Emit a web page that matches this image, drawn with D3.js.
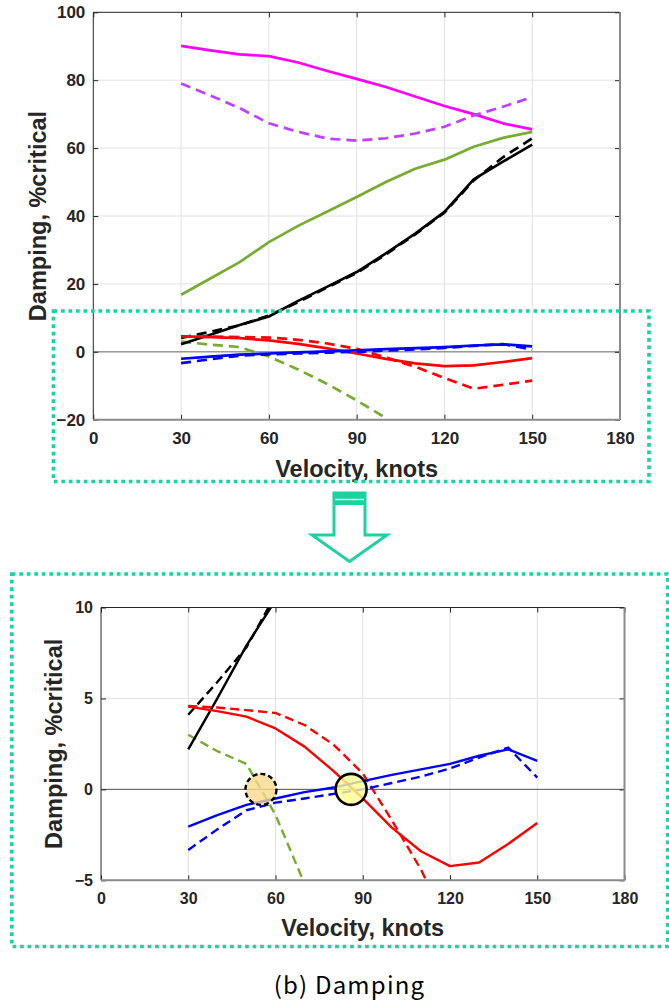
<!DOCTYPE html>
<html>
<head>
<meta charset="utf-8">
<script src="https://cdn.jsdelivr.net/npm/d3@7"></script>
<style>
  html, body { margin: 0; padding: 0; background: #fff; }
  svg { display: block; }
</style>
</head>
<body>
<svg id="chart" width="669" height="1000"></svg>
<script>
// velocity stations, knots
const velocity = [30, 40, 50, 60, 70, 80, 90, 100, 110, 120, 130, 140, 150];

// damping, %critical
const magentaSolid = [90.1, 88.8, 87.6, 87.1, 85.2, 82.7, 80.4, 78.0, 75.2, 72.4, 70.0, 67.3, 65.5];
const purpleDashed = [79.0, 75.5, 71.8, 67.3, 64.8, 62.8, 62.2, 62.9, 64.3, 66.3, 69.6, 72.2, 75.0];
const greenSolid   = [16.8, 21.6, 26.4, 32.3, 37.1, 41.3, 45.6, 50.0, 53.9, 56.6, 60.4, 63.0, 64.8];
const greenDashed  = [3.0, 2.1, 1.4, -1.4, -5.2, -9.5, -14.3, -19.5, null, null, null, null, null];
const blackSolid   = [2.2, 5.0, 7.9, 10.4, 15.0, 19.2, 23.5, 29.0, 34.8, 41.2, 50.8, 56.0, 61.0];
const blackDashed  = [4.1, 5.9, 7.8, 10.7, 14.6, 19.0, 23.2, 28.7, 34.6, 41.0, 50.5, 57.3, 62.9];
const redSolid     = [4.55, 4.3, 4.0, 3.35, 2.35, 1.0, -0.5, -2.1, -3.4, -4.22, -4.02, -3.0, -1.85];
const redDashed    = [4.58, 4.5, 4.36, 4.2, 3.54, 2.45, 0.88, -1.7, -4.4, -7.7, -10.9, -9.7, -8.5];
const blueSolid    = [-2.05, -1.42, -0.85, -0.5, -0.15, 0.1, 0.45, 0.8, 1.1, 1.4, 1.85, 2.2, 1.57];
const blueDashed   = [-3.33, -2.2, -1.15, -0.73, -0.5, -0.25, 0.0, 0.35, 0.7, 1.15, 1.75, 2.3, 0.65];

// axis ticks
const xTicks = [0, 30, 60, 90, 120, 150, 180];
const yTicksFull = [-20, 0, 20, 40, 60, 80, 100];
const yTicksZoom = [-5, 0, 5, 10];

// zero crossings marked in the zoomed plot (velocity)
const crossingDashed = [55];
const crossingSolid = [86];

const series = [
  { values: magentaSolid, color: "#ff00ff", dash: null },
  { values: purpleDashed, color: "#bf40ff", dash: true },
  { values: greenSolid,   color: "#77ac30", dash: null },
  { values: greenDashed,  color: "#77ac30", dash: true },
  { values: blackSolid,   color: "#000000", dash: null },
  { values: blackDashed,  color: "#000000", dash: true },
  { values: redSolid,     color: "#ff0000", dash: null },
  { values: redDashed,    color: "#ff0000", dash: true },
  { values: blueSolid,    color: "#0000ff", dash: null },
  { values: blueDashed,   color: "#0000ff", dash: true }
];

const svg = d3.select("#chart");
const FONT = "'Liberation Sans', Arial, sans-serif";
const TEAL = "#1ad3a1";

function drawPanel(opt) {
  const x = d3.scaleLinear().domain([0, 180]).range([opt.left, opt.right]);
  const y = d3.scaleLinear().domain(opt.yDomain).range([opt.bottom, opt.top]);
  const g = svg.append("g");
  const clipId = "clip" + opt.id;

  g.append("clipPath").attr("id", clipId)
    .append("rect")
    .attr("x", opt.left).attr("y", opt.top)
    .attr("width", opt.right - opt.left).attr("height", opt.bottom - opt.top);

  // grid
  g.selectAll(".gx").data(xTicks.slice(1, -1)).enter().append("line")
    .attr("x1", d => x(d)).attr("x2", d => x(d))
    .attr("y1", opt.top).attr("y2", opt.bottom)
    .attr("stroke", "#e2e2e2").attr("stroke-width", 1);
  g.selectAll(".gy").data(opt.yTicks.slice(1, -1)).enter().append("line")
    .attr("x1", opt.left).attr("x2", opt.right)
    .attr("y1", d => y(d)).attr("y2", d => y(d))
    .attr("stroke", "#e2e2e2").attr("stroke-width", 1);

  // zero line
  g.append("line")
    .attr("x1", opt.left).attr("x2", opt.right)
    .attr("y1", y(0)).attr("y2", y(0))
    .attr("stroke", opt.zeroColor).attr("stroke-width", opt.zeroWidth);

  // lines
  const line = d3.line()
    .defined(d => d[1] !== null)
    .x(d => x(d[0]))
    .y(d => y(d[1]));

  g.append("g").attr("clip-path", "url(#" + clipId + ")")
    .selectAll("path").data(series).enter().append("path")
    .attr("d", s => line(velocity.map((v, i) => [v, s.values[i]])))
    .attr("fill", "none")
    .attr("stroke", s => s.color)
    .attr("stroke-width", opt.lineWidth)
    .attr("stroke-dasharray", s => s.dash ? opt.dash : null)
    .attr("stroke-linejoin", "round");

  // axes (ticks inward on all four sides)
  const fmt = d3.format("d");
  const ax = g.append("g").attr("transform", "translate(0," + opt.bottom + ")")
    .call(d3.axisBottom(x).tickValues(xTicks).tickSize(-5).tickPadding(12).tickFormat(fmt));
  const ay = g.append("g").attr("transform", "translate(" + opt.left + ",0)")
    .call(d3.axisLeft(y).tickValues(opt.yTicks).tickSize(-5).tickPadding(8).tickFormat(fmt));
  g.append("g").attr("transform", "translate(0," + opt.top + ")")
    .call(d3.axisTop(x).tickValues(xTicks).tickSize(-5).tickFormat(""));
  g.append("g").attr("transform", "translate(" + opt.right + ",0)")
    .call(d3.axisRight(y).tickValues(opt.yTicks).tickSize(-5).tickFormat(""));
  g.selectAll(".domain").remove();
  g.selectAll(".tick line").attr("stroke", "#262626");
  [ax, ay].forEach(a => a.selectAll("text")
    .attr("font-family", FONT).attr("font-weight", "bold")
    .attr("font-size", opt.tickSize).attr("fill", "#262626"));

  // frame
  g.append("line").attr("x1", opt.left).attr("x2", opt.right).attr("y1", opt.top).attr("y2", opt.top)
    .attr("stroke", "#262626").attr("stroke-width", 1);
  g.append("line").attr("x1", opt.left).attr("x2", opt.left).attr("y1", opt.top).attr("y2", opt.bottom)
    .attr("stroke", "#262626").attr("stroke-width", 1);
  g.append("line").attr("x1", opt.left).attr("x2", opt.right).attr("y1", opt.bottom).attr("y2", opt.bottom)
    .attr("stroke", "#8a8a8a").attr("stroke-width", 2);
  g.append("line").attr("x1", opt.right).attr("x2", opt.right).attr("y1", opt.top).attr("y2", opt.bottom)
    .attr("stroke", "#8a8a8a").attr("stroke-width", 2);

  // axis labels
  g.append("text")
    .attr("x", (opt.left + opt.right) / 2).attr("y", opt.xLabelY)
    .attr("text-anchor", "middle")
    .attr("font-family", FONT).attr("font-weight", "bold").attr("font-size", opt.labelSize)
    .attr("fill", "#262626")
    .text("Velocity, knots");
  g.append("text")
    .attr("transform", "translate(" + opt.yLabelX + "," + (opt.top + opt.bottom) / 2 + ") rotate(-90)")
    .attr("text-anchor", "middle")
    .attr("font-family", FONT).attr("font-weight", "bold").attr("font-size", opt.labelSize)
    .attr("fill", "#262626")
    .text("Damping, %critical");

  return { x, y, g };
}

// full range plot
drawPanel({
  id: 1, left: 93.3, right: 620, top: 12.3, bottom: 419.7,
  yDomain: [-20, 100], yTicks: yTicksFull,
  zeroColor: "#9a9a9a", zeroWidth: 1.6,
  lineWidth: 2.7, dash: "10,6",
  tickSize: "17px", labelSize: "23.5px",
  xLabelY: 476.5, yLabelX: 46
});

// zoomed plot
const z = drawPanel({
  id: 2, left: 101, right: 624.5, top: 607.5, bottom: 880.3,
  yDomain: [-5, 10], yTicks: yTicksZoom,
  zeroColor: "#555555", zeroWidth: 1,
  lineWidth: 2.4, dash: "9,5",
  tickSize: "16px", labelSize: "23.5px",
  xLabelY: 935.5, yLabelX: 62
});

// crossing markers
z.g.selectAll(".cross-d").data(crossingDashed).enter().append("circle")
  .attr("cx", d => z.x(d)).attr("cy", z.y(0)).attr("r", 15.5)
  .attr("fill", "#f8d88c").attr("fill-opacity", 0.8)
  .attr("stroke", "#000").attr("stroke-width", 2.4)
  .attr("stroke-dasharray", "5,3");
z.g.selectAll(".cross-s").data(crossingSolid).enter().append("circle")
  .attr("cx", d => z.x(d)).attr("cy", z.y(0)).attr("r", 15.5)
  .attr("fill", "#ffff8f").attr("fill-opacity", 0.8)
  .attr("stroke", "#000").attr("stroke-width", 2.6);

// dotted boxes
svg.append("rect")
  .attr("x", 53.5).attr("y", 311).attr("width", 595.5).attr("height", 170.5)
  .attr("fill", "none").attr("stroke", TEAL).attr("stroke-width", 3.7)
  .attr("stroke-dasharray", "3.7,3.8");
svg.append("rect")
  .attr("x", 11.8).attr("y", 574).attr("width", 656).attr("height", 372.5)
  .attr("fill", "none").attr("stroke", TEAL).attr("stroke-width", 3.7)
  .attr("stroke-dasharray", "3.7,3.8");

// arrow
svg.append("rect").attr("x", 332.5).attr("y", 491.5).attr("width", 34).attr("height", 13.5)
  .attr("fill", TEAL);
svg.append("line").attr("x1", 335).attr("x2", 364).attr("y1", 499.5).attr("y2", 499.5)
  .attr("stroke", "#fff").attr("stroke-width", 1.4);
svg.append("path")
  .attr("d", "M334,505 L334,535 L312,535 L349.5,561.5 L387,535 L365,535 L365,505")
  .attr("fill", "#fff").attr("stroke", TEAL).attr("stroke-width", 3)
  .attr("stroke-linejoin", "miter");

// caption
svg.append("text")
  .attr("x", 349.5).attr("y", 994)
  .attr("text-anchor", "middle")
  .attr("font-family", "'Noto Sans CJK KR', 'Noto Sans', sans-serif")
  .attr("font-size", "24px")
  .attr("letter-spacing", "1.2px")
  .attr("fill", "#000")
  .text("(b) Damping");
</script>
</body>
</html>
